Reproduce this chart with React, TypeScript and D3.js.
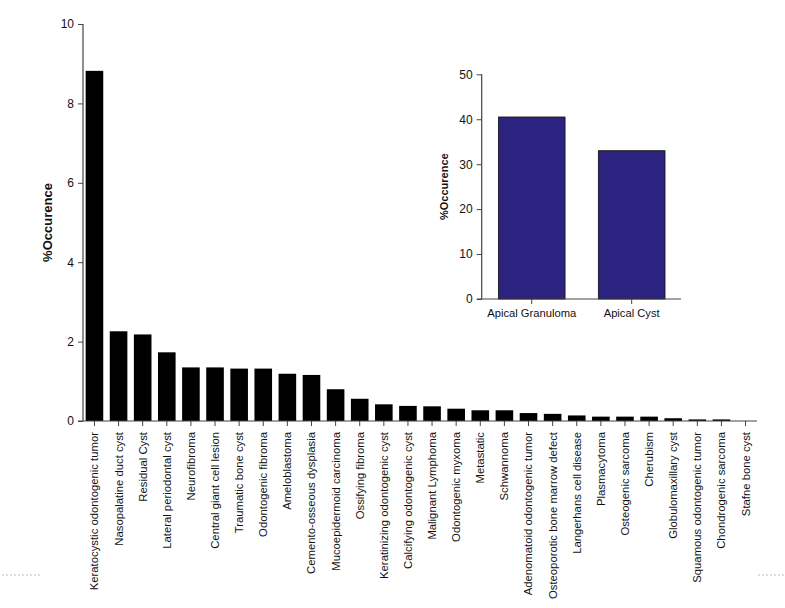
import React, { useRef, useEffect } from 'react';
import * as d3 from 'd3';

const lesions: string[] = [
  'Keratocystic odontogenic tumor',
  'Nasopalatine duct cyst',
  'Residual Cyst',
  'Lateral periodontal cyst',
  'Neurofibroma',
  'Central giant cell lesion',
  'Traumatic bone cyst',
  'Odontogenic fibroma',
  'Ameloblastoma',
  'Cemento-osseous dysplasia',
  'Mucoepidermoid carcinoma',
  'Ossifying fibroma',
  'Keratinizing odontogenic cyst',
  'Calcifying odontogenic cyst',
  'Malignant Lymphoma',
  'Odontogenic myxoma',
  'Metastatic',
  'Schwannoma',
  'Adenomatoid odontogenic tumor',
  'Osteoporotic bone marrow defect',
  'Langerhans cell disease',
  'Plasmacytoma',
  'Osteogenic sarcoma',
  'Cherubism',
  'Globulomaxillary cyst',
  'Squamous odontogenic tumor',
  'Chondrogenic sarcoma',
  'Stafne bone cyst',
];

const lesionPct: number[] = [
  8.82, 2.26, 2.18, 1.73, 1.35, 1.35, 1.32, 1.32, 1.19, 1.16,
  0.8, 0.56, 0.42, 0.38, 0.37, 0.31, 0.27, 0.27, 0.2, 0.18,
  0.14, 0.11, 0.11, 0.11, 0.07, 0.04, 0.04, 0.0,
];

const mainTicks: number[] = [0, 2, 4, 6, 8, 10];

const apicalTypes: string[] = ['Apical Granuloma', 'Apical Cyst'];
const apicalPct: number[] = [40.5, 33.0];
const insetTicks: number[] = [0, 10, 20, 30, 40, 50];

const FONT = '"Liberation Sans", Arial, Helvetica, sans-serif';
const AXIS = '#444';

export default function App() {
  const ref = useRef<SVGSVGElement | null>(null);

  useEffect(() => {
    const svg = d3.select(ref.current);
    svg.selectAll('*').remove();
    svg.style('font-family', FONT);

    // ---- main chart ----
    const x = d3.scaleBand<string>()
      .domain(lesions)
      .range([83, 757])
      .paddingInner(0.27)
      .paddingOuter(0.11);

    const y = d3.scaleLinear().domain([0, 10]).range([421, 24]);

    const main = svg.append('g');

    main.selectAll('rect.bar')
      .data(lesions)
      .join('rect')
      .attr('class', 'bar')
      .attr('x', d => x(d)!)
      .attr('y', (d, i) => y(lesionPct[i]))
      .attr('width', x.bandwidth())
      .attr('height', (d, i) => y(0) - y(lesionPct[i]))
      .attr('fill', '#000');

    const yAxis = main.append('g')
      .attr('transform', 'translate(83,0)')
      .call(d3.axisLeft(y).tickValues(mainTicks).tickSize(5).tickPadding(4).tickFormat(d3.format('d')));
    yAxis.select('.domain').attr('stroke', AXIS).attr('stroke-width', 1.2).attr('d', `M0,${y(10)}V${y(0)}`);
    yAxis.selectAll('line').attr('stroke', AXIS);
    yAxis.selectAll('text').attr('font-size', 12).attr('fill', '#111').attr('font-family', FONT);

    const xAxis = main.append('g')
      .attr('transform', `translate(0,${y(0)})`)
      .call(d3.axisBottom(x).tickSize(5).tickPadding(6));
    xAxis.select('.domain').attr('stroke', AXIS).attr('stroke-width', 1.2).attr('d', `M78,0H757`);
    xAxis.selectAll('line').attr('stroke', AXIS);
    xAxis.selectAll('text')
      .attr('font-size', 11.3)
      .attr('fill', '#111')
      .attr('font-family', FONT)
      .attr('text-anchor', 'end')
      .attr('transform', 'rotate(-90)')
      .attr('x', -11)
      .attr('y', 0)
      .attr('dy', '0.35em');

    main.append('text')
      .attr('transform', `translate(52,${(y(0) + y(10)) / 2}) rotate(-90)`)
      .attr('text-anchor', 'middle')
      .attr('font-size', 13)
      .attr('font-weight', 'bold')
      .attr('fill', '#111')
      .text('%Occurence');

    // ---- inset: apical lesions ----
    const xi = d3.scaleBand<string>()
      .domain(apicalTypes)
      .range([481.7, 681.7])
      .paddingInner(0.333)
      .paddingOuter(0.167);

    const yi = d3.scaleLinear().domain([0, 50]).range([299, 74.3]);

    const inset = svg.append('g');

    inset.selectAll('rect.bar')
      .data(apicalTypes)
      .join('rect')
      .attr('class', 'bar')
      .attr('x', d => xi(d)!)
      .attr('y', (d, i) => yi(apicalPct[i]))
      .attr('width', xi.bandwidth())
      .attr('height', (d, i) => yi(0) - yi(apicalPct[i]))
      .attr('fill', '#2c2380')
      .attr('stroke', '#111')
      .attr('stroke-width', 0.8);

    const yiAxis = inset.append('g')
      .attr('transform', 'translate(481.7,0)')
      .call(d3.axisLeft(yi).tickValues(insetTicks).tickSize(5).tickPadding(4));
    yiAxis.select('.domain').attr('stroke', AXIS).attr('stroke-width', 1.2).attr('d', `M0,${yi(50)}V${yi(0)}`);
    yiAxis.selectAll('line').attr('stroke', AXIS);
    yiAxis.selectAll('text').attr('font-size', 12).attr('fill', '#111').attr('font-family', FONT);

    const xiAxis = inset.append('g')
      .attr('transform', `translate(0,${yi(0)})`)
      .call(d3.axisBottom(xi).tickSize(5).tickPadding(5));
    xiAxis.select('.domain').attr('stroke', AXIS).attr('stroke-width', 1.2).attr('d', 'M477,0H681');
    xiAxis.selectAll('line').attr('stroke', AXIS);
    xiAxis.selectAll('text').attr('font-size', 11.2).attr('fill', '#111').attr('font-family', FONT);

    inset.append('text')
      .attr('transform', `translate(448,${(yi(0) + yi(50)) / 2}) rotate(-90)`)
      .attr('text-anchor', 'middle')
      .attr('font-size', 11)
      .attr('font-weight', 'bold')
      .attr('fill', '#111')
      .text('%Occurence');

    // faint dotted page rules at the bottom edges
    svg.append('line')
      .attr('x1', 2).attr('x2', 40).attr('y1', 575).attr('y2', 575)
      .attr('stroke', '#bbb').attr('stroke-dasharray', '2,2');
    svg.append('line')
      .attr('x1', 758).attr('x2', 785).attr('y1', 575).attr('y2', 575)
      .attr('stroke', '#bbb').attr('stroke-dasharray', '2,2');
  }, []);

  return (
    <svg
      ref={ref}
      width={785}
      height={608}
      style={{ position: 'absolute', left: 0, top: 0, background: '#fff' }}
    />
  );
}
